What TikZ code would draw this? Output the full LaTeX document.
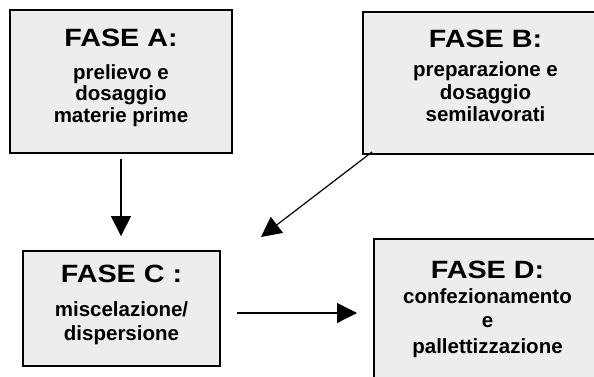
\documentclass[tikz,border=0pt]{standalone}
\usepackage{fontspec}
\setmainfont{Liberation Sans}
\newfontfamily\titlefam{Liberation Sans}[FakeStretch=1.15]
\usetikzlibrary{arrows.meta}
\tikzset{
  box/.style={draw=black, line width=1.8pt, fill=black!7, inner sep=0pt},
  ttl/.style={anchor=base, inner sep=0pt, font=\titlefam\bfseries\fontsize{25}{28}\selectfont},
  bdy/.style={anchor=base, inner sep=0pt, font=\bfseries\fontsize{20.5}{23}\selectfont},
  arr/.style={line width=1.2pt, -{Triangle[length=20pt,width=20pt]}}
}
\begin{document}
\begin{tikzpicture}[x=1pt,y=-1pt]
\useasboundingbox (0,0) rectangle (594,377);
\clip (0,0) rectangle (594,377);
% boxes
\node[box, minimum width=222pt, minimum height=143pt] (A) at (121,81.5) {};
\node[box, minimum width=245pt, minimum height=142pt] (B) at (485.5,83) {};
\node[box, minimum width=197pt, minimum height=115pt] (C) at (121.5,308.5) {};
\node[box, minimum width=227pt, minimum height=161pt] (D) at (487.5,319.5) {};
% texts A
\node[ttl] (A0) at (121,47) {FASE A:};
\node[bdy] (A1) at (121,80) {prelievo e};
\node[bdy] (A2) at (121,101) {dosaggio};
\node[bdy] (A3) at (121,123) {materie prime};
% texts B
\node[ttl] (B0) at (485.5,48) {FASE B:};
\node[bdy] (B1) at (485.5,77) {preparazione e};
\node[bdy] (B2) at (485.5,100) {dosaggio};
\node[bdy] (B3) at (485.5,122) {semilavorati};
% texts C
\node[ttl] (C0) at (121.5,282) {FASE C :};
\node[bdy] (C1) at (121.5,316) {miscelazione/};
\node[bdy] (C2) at (121.5,340) {dispersione};
% texts D
\node[ttl] (D0) at (487.5,278) {FASE D:};
\node[bdy] (D1) at (487.5,303) {confezionamento};
\node[bdy] (D2) at (487.5,327) {e};
\node[bdy] (D3) at (487.5,353) {pallettizzazione};
% connectors
\coordinate (bOut) at (372,152);
\coordinate (cIn) at (261,237);
\coordinate (cOut) at (237,313);
\coordinate (dIn) at (357,313);
\draw[arr, shorten <=5pt, shorten >=14pt] (A.south) -- (A.south |- C.north);
\draw[arr] (bOut) -- (cIn);
\draw[arr] (cOut) -- (dIn);
\end{tikzpicture}
\end{document}
